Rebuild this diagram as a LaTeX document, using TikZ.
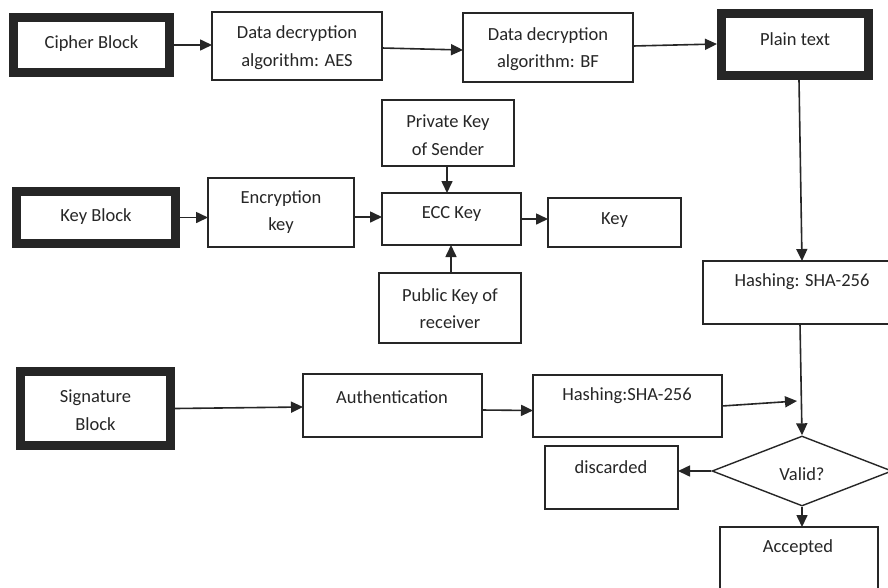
\documentclass[tikz,border=0pt]{standalone}
\usepackage{fontspec}
\setmainfont{Carlito}
\usetikzlibrary{shapes.geometric,arrows.meta,calc}
\begin{document}
\begin{tikzpicture}[x=1pt,y=-1pt,
  box/.style={draw=black!85,line width=1.4pt,rectangle,inner sep=0pt,outer sep=0pt},
  thickbox/.style={draw=black!85,line width=9pt,rectangle,inner sep=0pt},
  txt/.style={inner sep=0pt,align=center,text=black!85,font=\fontsize{18.5}{27.5}\selectfont},
  arr/.style={draw=black!85,line width=1.6pt,-{Triangle[length=12pt,width=11pt]}},
  every node/.append style={font=\fontsize{18.5}{27.5}\selectfont}]
\clip (0,0) rectangle (888,587);
\fill[white] (0,0) rectangle (888,587);
% thick boxes
\node[thickbox,minimum width=156pt,minimum height=55pt] (cipher) at (91.5,45) {};
\node[txt] at (91.5,44) {Cipher Block};
\node[thickbox,minimum width=147pt,minimum height=62pt] (plain) at (795,44.5) {};
\node[txt] at (795,39) {Plain text};
\node[thickbox,minimum width=159pt,minimum height=52pt] (kb) at (96,217.5) {};
\node[txt] at (96,217) {Key Block};
\node[thickbox,minimum width=150pt,minimum height=74pt] (sig) at (95.5,408.5) {};
\node[txt] at (95.5,410) {Signature\\Block};
% thin boxes
\node[box,minimum width=170pt,minimum height=68pt] (aes) at (297,46) {};
\node[txt] at (297,47.5) {Data decryption\\algorithm: AES};
\node[box,minimum width=170pt,minimum height=69pt] (bf) at (548,47.5) {};
\node[txt] at (548,49) {Data decryption\\algorithm: BF};
\node[box,minimum width=146pt,minimum height=69pt] (enc) at (281,212.5) {};
\node[txt] at (281,212) {Encryption\\key};
\node[box,minimum width=132pt,minimum height=66pt] (priv) at (448,133) {};
\node[txt] at (448,135) {Private Key\\of Sender};
\node[box,minimum width=139pt,minimum height=52pt] (ecc) at (451.5,219) {};
\node[txt] at (451.5,214) {ECC Key};
\node[box,minimum width=133pt,minimum height=49pt] (key) at (614.5,222.5) {};
\node[txt] at (614.5,220) {Key};
\node[box,minimum width=142pt,minimum height=70pt] (pub) at (450,308) {};
\node[txt] at (450,308.5) {Public Key of\\receiver};
\node[box,minimum width=198pt,minimum height=63pt] (hashA) at (802,292.5) {};
\node[txt] at (802,282) {Hashing: SHA-256};
\node[box,minimum width=189pt,minimum height=62pt] (hashB) at (627.5,406) {};
\node[txt] at (627,396) {Hashing:SHA-256};
\node[box,minimum width=179pt,minimum height=63pt] (auth) at (392.5,405.5) {};
\node[txt] at (392,397) {Authentication};
\node[box,minimum width=133pt,minimum height=63pt] (disc) at (611.5,477.5) {};
\node[txt] at (611,467) {discarded};
\node[box,minimum width=158pt,minimum height=90pt] (acc) at (799,572) {};
\node[txt] at (798,548) {Accepted};
\node[diamond,draw=black!85,line width=1.4pt,inner sep=0pt,minimum width=180pt,minimum height=70pt,text=black!85] (dia) at (802,471) {};
\node[txt] at (802,474) {Valid?};
\coordinate (hb) at (797,401);
% connectors
\draw[arr] (cipher.east) -- (cipher.east -| aes.west);
\draw[arr] ($(aes.east)+(0,2)$) -- ($(bf.west)+(0,2.5)$);
\draw[arr] ($(bf.east)+(0,-1.5)$) -- ($(plain.west)+(0,-0.5)$);
\draw[arr] ($(plain.south)+(4,0)$) -- (hashA.north);
\draw[arr] ($(hashA.south)+(-2,0)$) -- (dia.north);
\draw[arr] (hashB.east) -- (hb);
\draw[arr] (dia.west) -- (dia.west -| disc.east);
\draw[arr] (dia.south) -- (dia.south |- acc.north);
\draw[arr] (kb.east) -- (kb.east -| enc.west);
\draw[arr] ($(enc.east)+(0,4.5)$) -- ($(ecc.west)+(0,-2)$);
\draw[arr] ($(priv.south)+(-1,0)$) -- ($(ecc.north)+(-4.5,0)$);
\draw[arr] ($(pub.north)+(1,0)$) -- ($(ecc.south)+(-0.5,0)$);
\draw[arr] (ecc.east) -- (ecc.east -| key.west);
\draw[arr] (sig.east) -- ($(auth.west)+(0,1.5)$);
\draw[arr] ($(auth.east)+(0,4.5)$) -- ($(hashB.west)+(0,4.5)$);
\end{tikzpicture}
\end{document}
